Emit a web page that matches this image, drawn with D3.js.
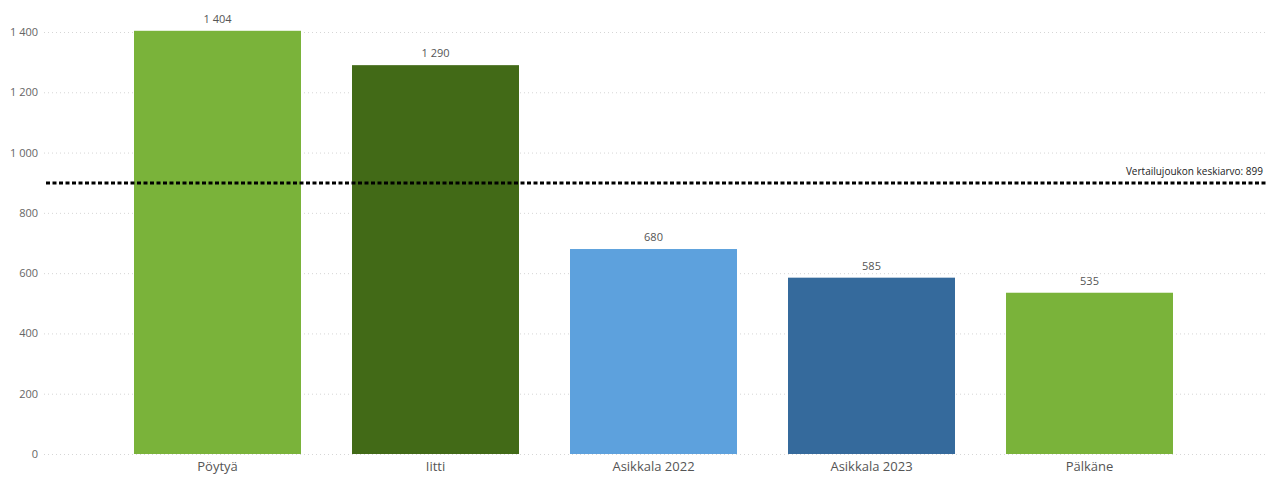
<!DOCTYPE html>
<html><head><meta charset="utf-8">
<script src="https://cdn.jsdelivr.net/npm/d3@7"></script>
<style>body{margin:0;background:#fff;}svg{display:block;font-family:"Open Sans","Noto Sans",sans-serif;}</style>
</head><body><svg id="c" width="1274" height="479"></svg>
<script>
const categories = ["Pöytyä", "Iitti", "Asikkala 2022", "Asikkala 2023", "Pälkäne"];
const values = [1404, 1290, 680, 585, 535];
const barColors = ["#7AB33A", "#426A17", "#5DA1DD", "#356A9C", "#7AB33A"];
const yTicks = [0, 200, 400, 600, 800, 1000, 1200, 1400];
const averageValue = 899;
const averageLabel = "Vertailujoukon keskiarvo: 899";

const svg = d3.select("#c");
const fmt = v => d3.format(",")(v).replace(/,/g, " ");
const y = d3.scaleLinear().domain([0, 1400]).range([454, 32]);
const x = d3.scaleBand().domain(categories).range([108.5, 1198.5]).paddingInner(0.234).paddingOuter(0.117);

// gridlines
const gridG = svg.append("g");
gridG.selectAll("line").data(yTicks).join("line")
  .attr("x1", 44).attr("x2", 1266)
  .attr("y1", d => y(d) + 0.5).attr("y2", d => y(d) + 0.5)
  .attr("stroke", "#d6d6d6").attr("stroke-width", 1).attr("stroke-dasharray", "1,3");

// y axis
const yAxis = d3.axisLeft(y).tickValues(yTicks).tickFormat(fmt).tickSize(0).tickPadding(0);
const ya = svg.append("g").attr("transform", "translate(38,0)").call(yAxis);
ya.select(".domain").remove();
ya.selectAll("text").attr("fill", "#666").style("font-size", "11px").style("font-family", "'Open Sans',sans-serif");

// bars
svg.append("g").selectAll("rect").data(values).join("rect")
  .attr("x", (d, i) => x(categories[i]))
  .attr("width", x.bandwidth())
  .attr("y", d => y(d))
  .attr("height", d => y(0) - y(d))
  .attr("fill", (d, i) => barColors[i]);

// value labels
svg.append("g").selectAll("text").data(values).join("text")
  .attr("x", (d, i) => x(categories[i]) + x.bandwidth() / 2)
  .attr("y", d => y(d) - 8)
  .attr("text-anchor", "middle")
  .attr("fill", "#555").style("font-size", "11px")
  .text(d => fmt(d));

// x axis
const xAxis = d3.axisBottom(x).tickSize(0).tickPadding(8);
const xa = svg.append("g").attr("transform", `translate(0,${y(0)})`).call(xAxis);
xa.select(".domain").remove();
xa.selectAll("text").attr("fill", "#555").style("font-size", "13px").style("font-family", "'Open Sans',sans-serif");

// average line
svg.append("line")
  .attr("x1", 46).attr("x2", 1268)
  .attr("y1", y(averageValue)).attr("y2", y(averageValue))
  .attr("stroke", "#000").attr("stroke-width", 3).attr("stroke-dasharray", "4,2.5");
svg.append("text")
  .attr("x", 1263).attr("y", y(averageValue) - 8)
  .attr("text-anchor", "end").attr("fill", "#222")
  .style("font-size", "10px")
  .text(averageLabel);
</script></body></html>
